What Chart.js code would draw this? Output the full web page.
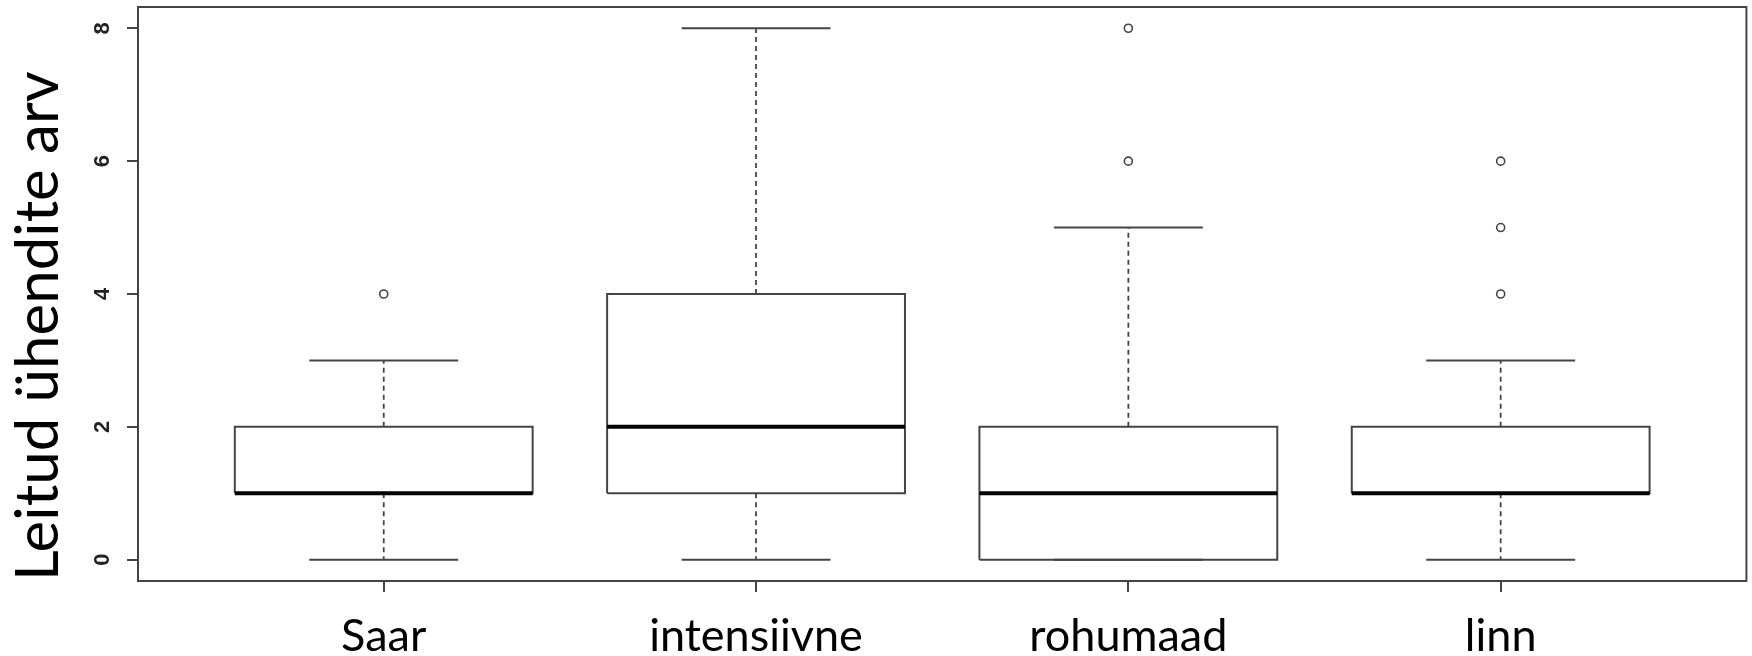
<!DOCTYPE html>
<html>
<head>
<meta charset="utf-8">
<script src="https://cdn.jsdelivr.net/npm/chart.js@4"></script>
<style>
  html, body { margin: 0; padding: 0; background: #fff; }
  #wrap { width: 1752px; height: 656px; }
</style>
</head>
<body>
<div id="wrap"><canvas id="boxChart"></canvas></div>
<script>
// Five-number summaries per habitat type
const categories = ["Saar", "intensiivne", "rohumaad", "linn"];
const whiskerLow = [0, 0, 0, 0];
const q1 = [1, 1, 0, 1];
const medians = [1, 2, 1, 1];
const q3 = [2, 4, 2, 2];
const whiskerHigh = [3, 8, 5, 3];
const outliers = [[4], [], [6, 8], [4, 5, 6]];
const yTicks = [0, 2, 4, 6, 8];

const halfBox = 0.4;
const halfCap = 0.2;
const lineColor = "#444";

// build polyline segments, null points break the line
const boxLines = [];
const whiskerLines = [];
const capLines = [];
const medianLines = [];
const outlierPoints = [];

categories.forEach((name, i) => {
  const x = i + 1;
  boxLines.push(
    { x: x - halfBox, y: q1[i] },
    { x: x + halfBox, y: q1[i] },
    { x: x + halfBox, y: q3[i] },
    { x: x - halfBox, y: q3[i] },
    { x: x - halfBox, y: q1[i] },
    { x: x, y: null }
  );
  whiskerLines.push(
    { x: x, y: q3[i] }, { x: x, y: whiskerHigh[i] }, { x: x, y: null },
    { x: x, y: q1[i] }, { x: x, y: whiskerLow[i] }, { x: x, y: null }
  );
  capLines.push(
    { x: x - halfCap, y: whiskerHigh[i] }, { x: x + halfCap, y: whiskerHigh[i] }, { x: x, y: null },
    { x: x - halfCap, y: whiskerLow[i] }, { x: x + halfCap, y: whiskerLow[i] }, { x: x, y: null }
  );
  medianLines.push(
    { x: x - halfBox, y: medians[i] }, { x: x + halfBox, y: medians[i] }, { x: x, y: null }
  );
  outliers[i].forEach((v) => outlierPoints.push({ x: x, y: v }));
});

// plot frame around the whole chart area
const frame = {
  id: "frame",
  afterDatasetsDraw(chart) {
    const { ctx, chartArea } = chart;
    ctx.save();
    ctx.strokeStyle = lineColor;
    ctx.lineWidth = 2;
    ctx.strokeRect(chartArea.left, chartArea.top,
      chartArea.right - chartArea.left, chartArea.bottom - chartArea.top);
    ctx.restore();
  },
};

const segment = (data, opts) => Object.assign({
  data: data,
  showLine: true,
  spanGaps: false,
  pointRadius: 0,
  borderColor: lineColor,
  borderWidth: 2,
  fill: false,
}, opts);

new Chart(document.getElementById("boxChart"), {
  type: "scatter",
  data: {
    datasets: [
      segment(medianLines, { borderColor: "#000", borderWidth: 4, order: 0 }),
      segment(boxLines, { order: 1, borderJoinStyle: "miter" }),
      segment(capLines, { order: 2 }),
      segment(whiskerLines, { borderWidth: 1.8, borderDash: [5, 4], order: 3 }),
      {
        data: outlierPoints,
        showLine: false,
        pointRadius: 4,
        pointBorderWidth: 1.6,
        pointBorderColor: lineColor,
        pointBackgroundColor: "#fff",
        order: 4,
      },
    ],
  },
  options: {
    responsive: true,
    maintainAspectRatio: false,
    animation: false,
    layout: { padding: { top: 7, right: 2, left: 0, bottom: 0 } },
    plugins: { legend: { display: false }, tooltip: { enabled: false } },
    scales: {
      x: {
        type: "linear",
        min: 0.34,
        max: 4.66,
        afterFit(scale) {
          scale.height = 75;
          scale.paddingLeft = 0;
          scale.paddingRight = 0;
        },
        afterBuildTicks(scale) {
          scale.ticks = categories.map((c, i) => ({ value: i + 1 }));
        },
        border: { display: false },
        grid: { drawOnChartArea: false, drawTicks: true, tickLength: 11, color: lineColor, lineWidth: 2 },
        ticks: {
          padding: 17,
          maxRotation: 0,
          autoSkip: false,
          color: "#000",
          font: { family: "Lato", size: 45 },
          callback: (v) => categories[Math.round(v) - 1],
        },
      },
      y: {
        type: "linear",
        min: -0.32,
        max: 8.32,
        afterFit(scale) {
          scale.width = 138;
          scale.paddingTop = 0;
          scale.paddingBottom = 0;
        },
        afterBuildTicks(scale) {
          scale.ticks = yTicks.map((v) => ({ value: v }));
        },
        border: { display: false },
        grid: { drawOnChartArea: false, drawTicks: true, tickLength: 11, color: lineColor, lineWidth: 2 },
        ticks: {
          minRotation: 90,
          maxRotation: 90,
          crossAlign: "center",
          padding: 18,
          color: "#222",
          font: { family: "Liberation Sans", size: 22, weight: "bold" },
        },
        title: {
          display: true,
          text: "Leitud ühendite arv",
          align: "start",
          padding: { top: 3, bottom: 0 },
          color: "#000",
          font: { family: "Lato", size: 60 },
        },
      },
    },
  },
  plugins: [frame],
});
</script>
</body>
</html>
